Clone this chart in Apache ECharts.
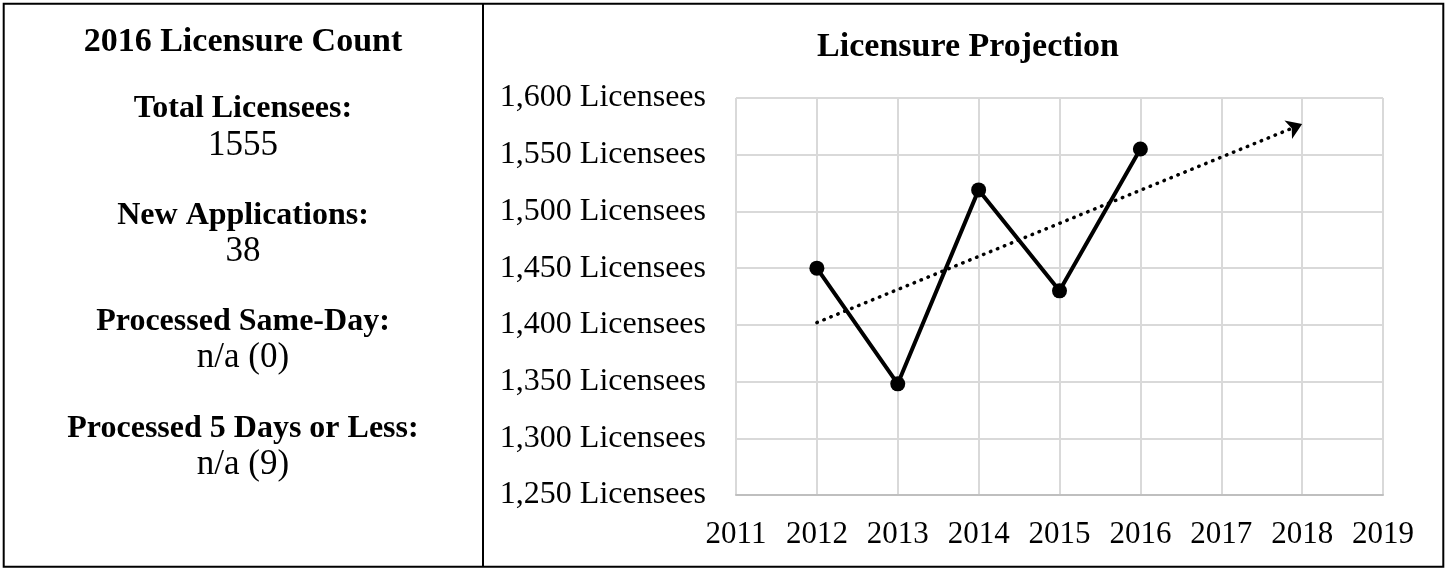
<!DOCTYPE html>
<html>
<head>
<meta charset="utf-8">
<title>Licensure Projection</title>
<script src="https://cdn.jsdelivr.net/npm/echarts@6/dist/echarts.min.js"></script>
<style>
  html, body { margin: 0; padding: 0; background: #fff; }
  #report { width: 1450px; height: 569px; }
</style>
</head>
<body>
<div id="report"></div>
<script>
// 数据
const years = [2012, 2013, 2014, 2015, 2016]
const licensees = [1450, 1348, 1519, 1430, 1555]
// trend line ends
const trendStart = [2012, 1402]
const trendEnd = [2018, 1577]
const yearMin = 2011
const yearMax = 2019
const countMin = 1250
const countMax = 1600
const countStep = 50

// left panel
const panelTitle = '2016 Licensure Count'
const summaryLabels = ['Total Licensees:', 'New Applications:', 'Processed Same-Day:', 'Processed 5 Days or Less:']
const summaryValues = ['1555', '38', 'n/a (0)', 'n/a (9)']

const serif = "'Liberation Serif', 'Times New Roman', serif"
const labelY = [109, 216, 322, 429]
const valueY = [146, 252, 358, 465]

const chart = echarts.init(document.querySelector('#report'))

let panelTexts = [{
  type: 'text',
  style: {
    text: panelTitle,
    x: 243,
    y: 42,
    font: 'bold 34px ' + serif,
    fill: '#000',
    textAlign: 'center',
    textVerticalAlign: 'middle'
  }
}]
summaryLabels.forEach((label, i) => {
  panelTexts.push({
    type: 'text',
    style: {
      text: label,
      x: 243,
      y: labelY[i],
      font: 'bold 32px ' + serif,
      fill: '#000',
      textAlign: 'center',
      textVerticalAlign: 'middle'
    }
  })
  panelTexts.push({
    type: 'text',
    style: {
      text: summaryValues[i],
      x: 243,
      y: valueY[i],
      font: '35px ' + serif,
      fill: '#000',
      textAlign: 'center',
      textVerticalAlign: 'middle'
    }
  })
})

let option = {
  animation: false,
  backgroundColor: '#fff',
  textStyle: { fontFamily: serif },
  title: {
    text: 'Licensure Projection',
    left: 963,
    top: 25,
    textAlign: 'center',
    textStyle: {
      color: '#000',
      fontSize: 34,
      fontWeight: 'bold',
      fontFamily: serif
    }
  },
  grid: {
    left: 736,
    right: 67,
    top: 98,
    bottom: 74
  },
  xAxis: {
    type: 'value',
    min: yearMin,
    max: yearMax,
    interval: 1,
    axisLine: {
      show: true,
      lineStyle: { color: '#bfbfbf', width: 2 }
    },
    axisTick: { show: false },
    axisLabel: {
      color: '#000',
      fontSize: 31,
      fontFamily: serif,
      margin: 24,
      formatter: (v) => String(v)
    },
    splitLine: {
      show: true,
      lineStyle: { color: '#d9d9d9', width: 2 }
    }
  },
  yAxis: {
    type: 'value',
    min: countMin,
    max: countMax,
    interval: countStep,
    axisLine: { show: false },
    axisTick: { show: false },
    axisLabel: {
      color: '#000',
      fontSize: 32,
      fontFamily: serif,
      margin: 30,
      formatter: (v) => v.toLocaleString('en-US') + ' Licensees'
    },
    splitLine: {
      lineStyle: { color: '#d9d9d9', width: 2 }
    }
  },
  series: [
    {
      type: 'line',
      data: years.map((y, i) => [y, licensees[i]]),
      symbol: 'circle',
      symbolSize: 15,
      lineStyle: { color: '#000', width: 4 },
      itemStyle: { color: '#000' },
      z: 5,
      markLine: {
        silent: true,
        symbol: ['none', 'arrow'],
        symbolSize: 15,
        label: { show: false },
        lineStyle: {
          color: '#000',
          width: 3.5,
          type: [0.5, 7],
          cap: 'round'
        },
        data: [[{ coord: trendStart }, { coord: trendEnd }]]
      }
    }
  ],
  graphic: [
    {
      type: 'rect',
      shape: { x: 3.7, y: 3.7, width: 1439.6, height: 563 },
      style: { fill: null, stroke: '#000', lineWidth: 2 }
    },
    {
      type: 'line',
      shape: { x1: 483, y1: 3.7, x2: 483, y2: 566.7 },
      style: { stroke: '#000', lineWidth: 2 }
    }
  ].concat(panelTexts)
}
chart.setOption(option)
window.addEventListener('resize', () => {
  chart.resize()
})
</script>
</body>
</html>
